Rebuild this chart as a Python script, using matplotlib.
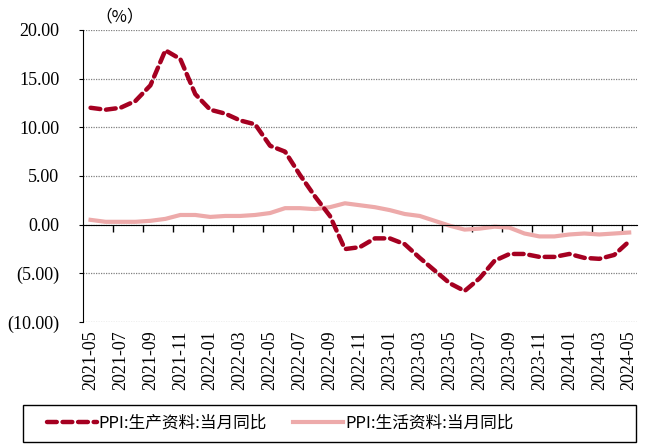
import numpy as np
import matplotlib
matplotlib.use('Agg')
import matplotlib.pyplot as plt
from matplotlib.patches import Rectangle

# months 2021-05 .. 2024-05
months = ['2021-05','2021-06','2021-07','2021-08','2021-09','2021-10','2021-11','2021-12',
          '2022-01','2022-02','2022-03','2022-04','2022-05','2022-06','2022-07','2022-08',
          '2022-09','2022-10','2022-11','2022-12','2023-01','2023-02','2023-03','2023-04',
          '2023-05','2023-06','2023-07','2023-08','2023-09','2023-10','2023-11','2023-12',
          '2024-01','2024-02','2024-03','2024-04','2024-05']
ppi_prod = [12.0, 11.8, 12.0, 12.7, 14.3, 17.9, 17.0, 13.4,
            11.8, 11.4, 10.7, 10.3, 8.1, 7.5, 5.1, 2.9,
            0.9, -2.5, -2.3, -1.4, -1.4, -2.0, -3.4, -4.7,
            -6.0, -6.8, -5.5, -3.7, -3.0, -3.0, -3.3, -3.3,
            -3.0, -3.4, -3.5, -3.1, -1.7]
ppi_cons = [0.5, 0.3, 0.3, 0.3, 0.4, 0.6, 1.0, 1.0,
            0.8, 0.9, 0.9, 1.0, 1.2, 1.7, 1.7, 1.6,
            1.8, 2.2, 2.0, 1.8, 1.5, 1.1, 0.9, 0.4,
            -0.1, -0.5, -0.4, -0.2, -0.3, -0.9, -1.2, -1.2,
            -1.0, -0.9, -1.0, -0.9, -0.8]
yticks = [20, 15, 10, 5, 0, -5, -10]
ylabels = ['20.00', '15.00', '10.00', '5.00', '0.00', '(5.00)', '(10.00)']
names = ['PPI:生产资料:当月同比', 'PPI:生活资料:当月同比']

serif = ['Liberation Serif', 'DejaVu Serif']
cjk = ['Noto Sans CJK SC', 'DejaVu Sans']

x = np.arange(len(months))

fig = plt.figure(figsize=(6.49, 4.45), dpi=100)
ax = fig.add_axes([0.128, 0.276, 0.853, 0.657])

l1, = ax.plot(x, ppi_prod, color='#A50021', lw=3.2, ls=(0, (2.2, 1.3)), solid_capstyle='round', dash_capstyle='round', zorder=3)
l2, = ax.plot(x, ppi_cons, color='#EDAAAA', lw=3.0, zorder=2)

ax.set_xlim(-0.5, len(months) - 0.5)
ax.set_ylim(-10, 20)
ax.set_yticks(yticks)
ax.set_yticklabels(ylabels, fontfamily=serif, fontsize=13)
ax.tick_params(axis='y', length=3, pad=14)
ax.yaxis.grid(True, color='#808080', ls=(0, (1, 1)), lw=0.9)
ax.set_axisbelow(True)

for s in ['top', 'right']:
    ax.spines[s].set_visible(False)
ax.spines['left'].set_color('black')
ax.spines['bottom'].set_position(('data', 0))
ax.spines['bottom'].set_color('black')

# tick marks on the zero line, between months
ax.set_xticks(np.arange(1.5, len(months) - 1, 2))
ax.set_xticklabels([])
ax.tick_params(axis='x', direction='out', length=5, width=1)

# labels at bottom
sec = ax.secondary_xaxis(location=0)
sec.set_xticks(x[::2])
sec.set_xticklabels(months[::2], rotation=90, fontfamily=serif, fontsize=13)
sec.tick_params(length=0, pad=6)
sec.spines['bottom'].set_visible(False)

fig.text(0.185, 0.962, '（%）', fontfamily=cjk, fontsize=12, ha='center', va='center')

# legend box
fig.patches.append(Rectangle((0.035, 0.007), 0.945, 0.083, transform=fig.transFigure,
                             fill=False, edgecolor='black', lw=1.0))
leg = fig.legend([l1, l2], names, loc='center left', ncol=2,
                 bbox_to_anchor=(0.072, 0.049),
                 prop={'family': cjk, 'size': 12}, frameon=False,
                 handlelength=3.0, handletextpad=0.1, columnspacing=1.6,
                 borderaxespad=0, borderpad=0)

fig.savefig('out.png', dpi=100)
